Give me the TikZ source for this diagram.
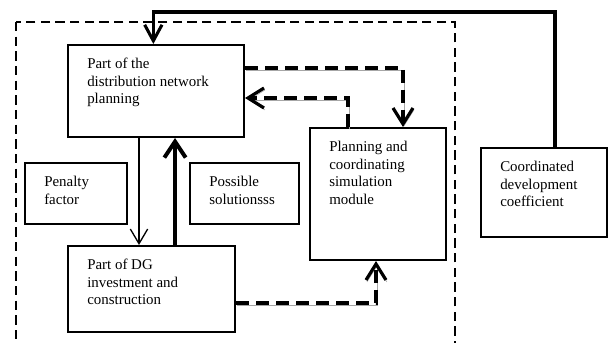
\documentclass[tikz,border=0pt]{standalone}
\usepackage{fontspec}
\setmainfont{Liberation Serif}
\usetikzlibrary{arrows.meta}

\begin{document}
\begin{tikzpicture}[x=0.75pt, y=-0.75pt,
        box/.style 2 args = {
            rectangle,
            draw,
            line width=1.5pt,
            minimum width=#1*0.75pt,
            minimum height=#2*0.75pt,
            inner sep=0pt
        },
        boxtext/.style = {
            anchor=north west,
            align=left,
            inner sep=0pt,
            font=\fontsize{11.2}{13.1}\selectfont,
            xshift=15pt,
            yshift=-10.5pt
        },
        frame/.style = {
            draw,
            line width=1.1pt,
            dash pattern=on 7pt off 4pt
        },
        thinarrow/.style = {
            line width=1pt,
            -{Straight Barb[length=11pt, width=13pt]}
        },
        thickarrow/.style = {
            line width=3pt,
            -{Straight Barb[length=12pt, width=16pt]}
        },
        feedback/.style = {
            line width=2.3pt,
            -{Straight Barb[length=12pt, width=13pt]}
        },
        dasharrow/.style = {
            line width=2.4pt,
            dash pattern=on 10pt off 5pt,
            -{Straight Barb[length=12pt, width=15pt]},
            preaction={draw=gray!70, transform canvas={xshift=0.7pt, yshift=-1.5pt}}
        }  ]

        \useasboundingbox (0,0) rectangle (609,342);

        % dashed frame round the left part
        \draw[frame] (16,22) rectangle (455,370);

        \node (planning) [box={176}{92}, label={[boxtext]north west:{Part of the\\distribution network\\planning}}] at (156,91) {};
        \node (penalty) [box={102}{61}, label={[boxtext]north west:{Penalty\\factor}}] at (76,193.5) {};
        \node (possible) [box={109}{61}, label={[boxtext]north west:{Possible\\solutionsss}}] at (244.5,193.5) {};
        \node (dg) [box={167}{86}, label={[boxtext]north west:{Part of DG\\investment and\\construction}}] at (151.5,289) {};
        \node (simulation) [box={136}{132}, label={[boxtext]north west:{Planning and\\coordinating\\simulation\\module}}] at (378,194) {};
        \node (coordinated) [box={126}{89}, label={[boxtext]north west:{Coordinated\\development\\coefficient}}] at (544,192.5) {};

        \coordinate (top) at (0,12);

        \draw[thinarrow] ([xshift=-12.75pt]planning.south) -- ([xshift=-12.75pt]planning.south |- dg.north);
        \draw[thickarrow] ([xshift=14.25pt]planning.south |- dg.north) -- ([xshift=14.25pt]planning.south);
        \draw[feedback] ([xshift=8.25pt]coordinated.north) |- ([xshift=-2pt]planning.north |- top) -- ([xshift=-2pt]planning.north);

        \draw[dasharrow] ([yshift=17.25pt]planning.east) -| ([xshift=18.75pt]simulation.north);
        \draw[dasharrow] ([xshift=-22.5pt]simulation.north) |- ([yshift=-5.25pt]planning.east);
        \draw[dasharrow] ([yshift=-10.5pt]dg.east) -| ([xshift=-1.5pt]simulation.south);
    \end{tikzpicture}
\end{document}
